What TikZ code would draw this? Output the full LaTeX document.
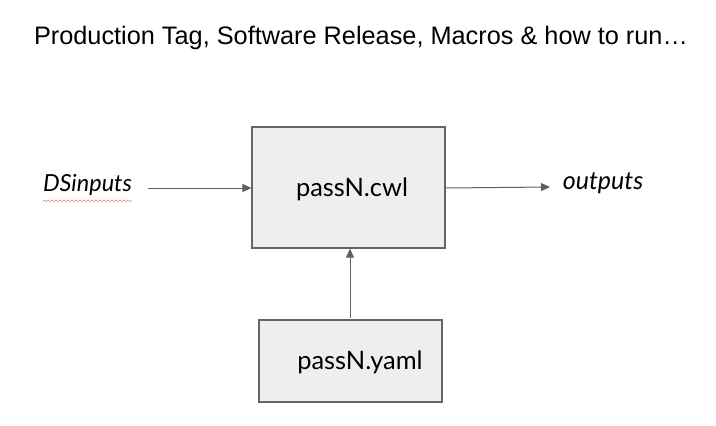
\documentclass[tikz,border=0pt]{standalone}
\usepackage{fontspec}
\setmainfont{Lato}
\newfontfamily\titlefont{Liberation Sans}
\usetikzlibrary{positioning,arrows.meta,decorations.pathmorphing}

\definecolor{boxfill}{HTML}{EEEEEE}
\definecolor{boxline}{HTML}{666666}
\definecolor{arrowgray}{HTML}{5F5F5F}

\begin{document}
\begin{tikzpicture}[
    x=1pt, y=-1pt,
    filebox/.style={rectangle, draw=boxline, fill=boxfill, line width=1.2pt},
    boxtext/.style={font=\fontsize{25.4}{30}\selectfont},
    label/.style={font=\fontsize{23.5}{28}\selectfont\itshape, inner sep=0pt},
    connection/.style={-{Triangle[length=9pt,width=8pt]}, line width=1pt, arrowgray}
]
\useasboundingbox (0,0) rectangle (716,426);

% Title
\node[font=\titlefont\fontsize{25.3}{30}\selectfont] (title) at (361,38) {Production Tag, Software Release, Macros \& how to run…};

% Boxes
\node[filebox, minimum width=193pt, minimum height=121pt] (cwl) at (348.5,187.5) {};
\node[boxtext] (cwltext) at (352,189) {passN.cwl};
\node[filebox, minimum width=183pt, minimum height=82pt] (yaml) at (350.5,361) {};
\node[boxtext] (yamltext) at (360,362) {passN.yaml};

% Inputs and outputs
\node[label] (in) at (87.5,185) {DSinputs};
\node[label, font=\fontsize{25}{30}\selectfont\itshape] (out) at (603,183) {outputs};
\draw[red!60, line width=0.5pt, decorate, decoration={snake, amplitude=0.9pt, segment length=4pt}]
    ([yshift=-5pt]in.south west) -- ([yshift=-5pt]in.south east);

% Connections
\coordinate (inend) at (148,188);
\coordinate (outend) at (550,187);
\coordinate (yamltop) at (350,318);
\draw[connection] (inend) -- (cwl.west |- inend);
\draw[connection] (cwl.east |- inend) -- (outend);
\draw[connection] (yamltop) -- (yamltop |- cwl.south);

\end{tikzpicture}
\end{document}
